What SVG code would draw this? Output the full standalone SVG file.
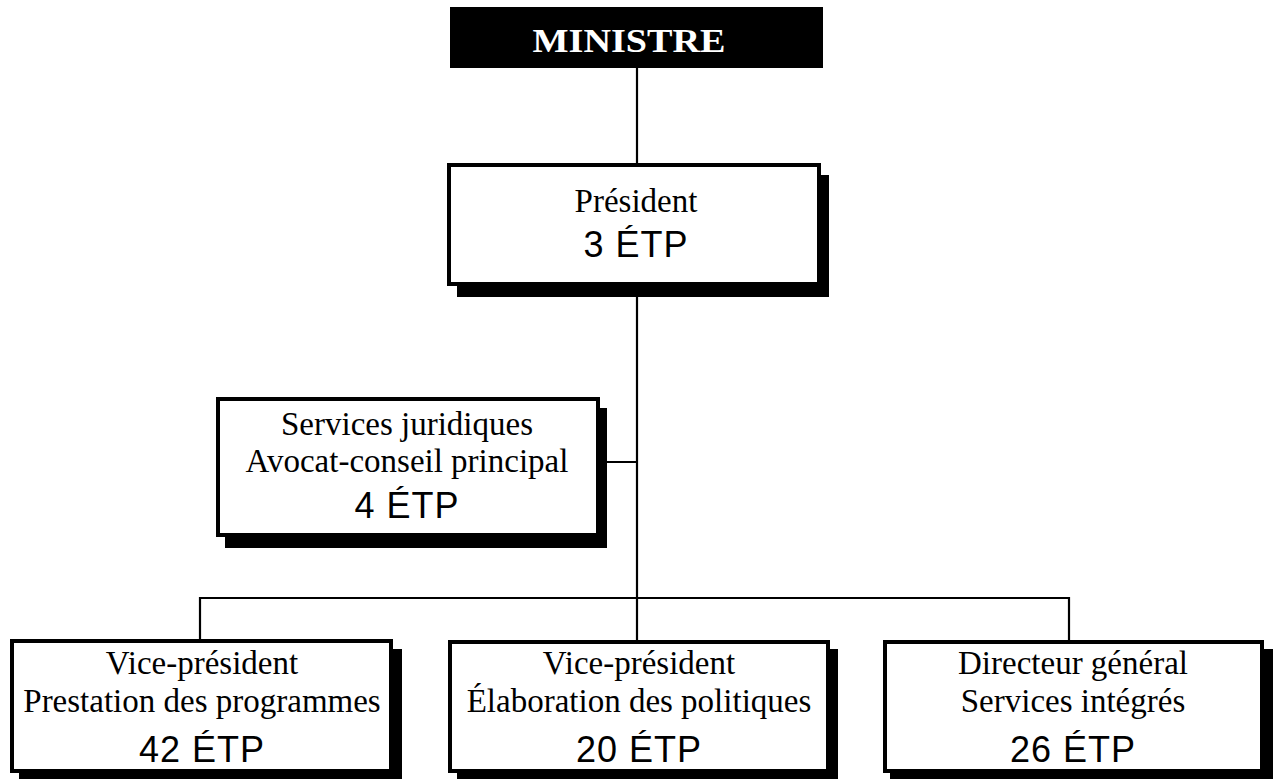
<svg xmlns="http://www.w3.org/2000/svg" width="1273" height="780" viewBox="0 0 1273 780">
  <style>
    .box { fill: #ffffff; stroke: #000000; stroke-width: 4; }
    .shadow { fill: #000000; }
    .conn { stroke: #000000; stroke-width: 2.2; fill: none; }
    .lbl { font-family: "Liberation Serif", "Times New Roman", serif; font-size: 33px; fill: #000000; text-anchor: middle; }
    .etp { font-family: "Liberation Sans", Arial, sans-serif; font-size: 36px; fill: #000000; text-anchor: middle; letter-spacing: 1px; }
    .top { font-family: "Liberation Serif", "Times New Roman", serif; font-size: 33px; font-weight: bold; fill: #ffffff; text-anchor: middle; }
  </style>
  <rect width="1273" height="780" fill="#ffffff"/>
  <g id="connectors">
    <line class="conn" x1="637" y1="68" x2="637" y2="165"/>
    <line class="conn" x1="637" y1="284" x2="637" y2="641"/>
    <line class="conn" x1="598" y1="462" x2="637" y2="462"/>
    <line class="conn" x1="199" y1="598" x2="1070" y2="598"/>
    <line class="conn" x1="200" y1="597" x2="200" y2="641"/>
    <line class="conn" x1="1069" y1="597" x2="1069" y2="641"/>
  </g>
  <g id="ministre">
    <rect x="450" y="7" width="373" height="61" fill="#000000"/>
    <text class="top" x="629" y="52" textLength="193" lengthAdjust="spacingAndGlyphs">MINISTRE</text>
  </g>
  <g id="president">
    <rect class="shadow" x="457" y="175" width="372" height="122"/>
    <rect class="box" x="449" y="165" width="370" height="119"/>
    <text class="lbl" x="636" y="212">Président</text>
    <text class="etp" x="636" y="257">3 ÉTP</text>
  </g>
  <g id="services-juridiques">
    <rect class="shadow" x="225" y="408" width="382" height="140"/>
    <rect class="box" x="218" y="399" width="380" height="136"/>
    <text class="lbl" x="407" y="435">Services juridiques</text>
    <text class="lbl" x="407" y="472">Avocat-conseil principal</text>
    <text class="etp" x="407" y="518">4 ÉTP</text>
  </g>
  <g id="vp-prestation">
    <rect class="shadow" x="19" y="649" width="383" height="130"/>
    <rect class="box" x="12" y="641" width="379" height="130"/>
    <text class="lbl" x="202" y="674">Vice-président</text>
    <text class="lbl" x="202" y="712">Prestation des programmes</text>
    <text class="etp" x="202" y="762">42 ÉTP</text>
  </g>
  <g id="vp-elaboration">
    <rect class="shadow" x="457" y="649" width="381" height="130"/>
    <rect class="box" x="450" y="642" width="378" height="129"/>
    <text class="lbl" x="639" y="674">Vice-président</text>
    <text class="lbl" x="639" y="712">Élaboration des politiques</text>
    <text class="etp" x="639" y="762">20 ÉTP</text>
  </g>
  <g id="dg-services">
    <rect class="shadow" x="890" y="649" width="383" height="130"/>
    <rect class="box" x="885" y="642" width="377" height="129"/>
    <text class="lbl" x="1073" y="674">Directeur général</text>
    <text class="lbl" x="1073" y="712">Services intégrés</text>
    <text class="etp" x="1073" y="762">26 ÉTP</text>
  </g>
</svg>
